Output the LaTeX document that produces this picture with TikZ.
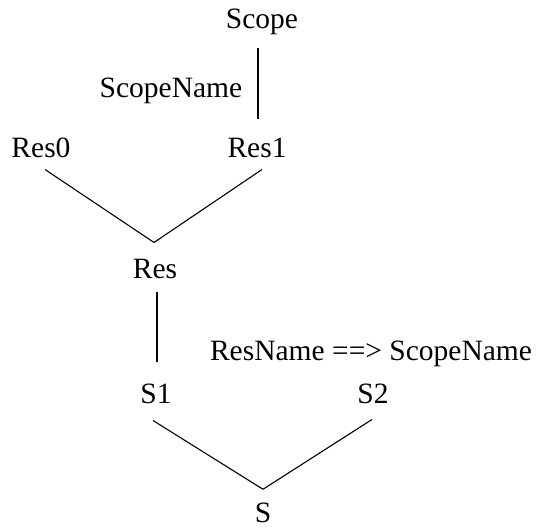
\documentclass[tikz,border=0pt]{standalone}
\usepackage{fontspec}
\setmainfont{Liberation Serif}
\begin{document}
\begin{tikzpicture}[x=1pt,y=-1pt,
  lbl/.style={inner sep=0pt, anchor=base, font=\fontsize{29.5}{34}\selectfont},
  edge/.style={line width=1.1pt, black}]
\useasboundingbox (0,0) rectangle (550,528);
\node[lbl] (scope) at (262,28) {Scope};
\node[lbl] (scopename) at (171,97) {ScopeName};
\node[lbl] (res0) at (41,157) {Res0};
\node[lbl] (res1) at (257,157) {Res1};
\node[lbl] (res) at (155,278) {Res};
\node[lbl] (resname) at (371,360) {ResName ==> ScopeName};
\node[lbl] (s1) at (156,403) {S1};
\node[lbl] (s2) at (373,403) {S2};
\node[lbl] (s) at (263,522) {S};
\draw[edge] ([xshift=-4pt,yshift=-14pt]scope.south) -- ([xshift=1pt,yshift=18pt]res1.north);
\draw[edge] ([xshift=4pt,yshift=-12pt]res0.south) -- ([xshift=-1pt,yshift=16pt]res.north);
\draw[edge] ([xshift=5pt,yshift=-12pt]res1.south) -- ([xshift=-1pt,yshift=16pt]res.north);
\draw[edge] ([xshift=2pt,yshift=-14pt]res.south) -- ([xshift=1pt,yshift=21pt]s1.north);
\draw[edge] ([xshift=-3pt,yshift=-17pt]s1.south) -- ([yshift=13pt]s.north);
\draw[edge] ([xshift=-1pt,yshift=-16pt]s2.south) -- ([yshift=13pt]s.north);
\end{tikzpicture}
\end{document}
